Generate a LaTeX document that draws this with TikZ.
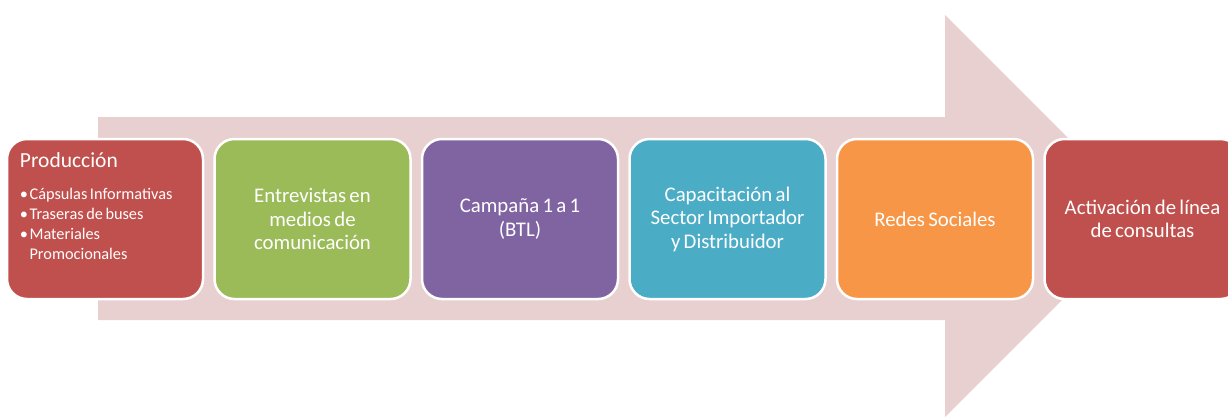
\documentclass[tikz,border=0pt]{standalone}
\usepackage{fontspec}
\setmainfont{Carlito}[WordSpace=0.7]
\usetikzlibrary{positioning}
\definecolor{arrowpink}{HTML}{E8D0D1}
\definecolor{prodred}{HTML}{C0504D}
\definecolor{entgreen}{HTML}{9BBB59}
\definecolor{btlpurple}{HTML}{8064A2}
\definecolor{capteal}{HTML}{4BACC6}
\definecolor{redorange}{HTML}{F79646}
\begin{document}
\begin{tikzpicture}[x=1pt, y=-1pt, node distance=9pt,
        stage/.style={draw=white, line width=2.5pt, rounded corners=20pt,
          minimum width=196pt, minimum height=160pt,
          align=center, text=white, font=\fontsize{20.8}{23.5}\selectfont}]
    \useasboundingbox (0,0) rectangle (1228,416);
    \clip (0,0) rectangle (1228,416);
    \fill[arrowpink] (98,117) -- (945,117) -- (945,15) -- (1146,216) -- (945,417)
      -- (945,320) -- (98,320) -- cycle;
    \node[stage, fill=prodred] (prod) at (105,219) {};
    \node[stage, fill=entgreen, right=of prod] (entrev) {Entrevistas en\\medios de\\comunicación};
    \node[stage, fill=btlpurple, right=of entrev] (btl) {Campaña 1 a 1\\(BTL)};
    \node[stage, fill=capteal, right=of btl] (capac) {Capacitación al\\Sector Importador\\y Distribuidor};
    \node[stage, fill=redorange, right=of capac] (redes) {Redes Sociales};
    \node[stage, fill=prodred, right=of redes] (activ) {Activación de línea\\de consultas};
    % contenido de la primera etapa
    \node[anchor=north west, inner sep=0pt, text=white, align=left] (prodtext)
      at ([shift={(14pt,-15pt)}]prod.north west)
      {{\fontsize{21.5}{24}\selectfont Producción}\\[16pt]
       {\fontsize{16.3}{20}\selectfont
        \begin{tabular}{@{}l@{\hspace{1.5pt}}l@{}}
          \textbullet & Cápsulas Informativas\\
          \textbullet & Traseras de buses\\
          \textbullet & Materiales\\
                      & Promocionales
        \end{tabular}}};
\end{tikzpicture}
\end{document}
